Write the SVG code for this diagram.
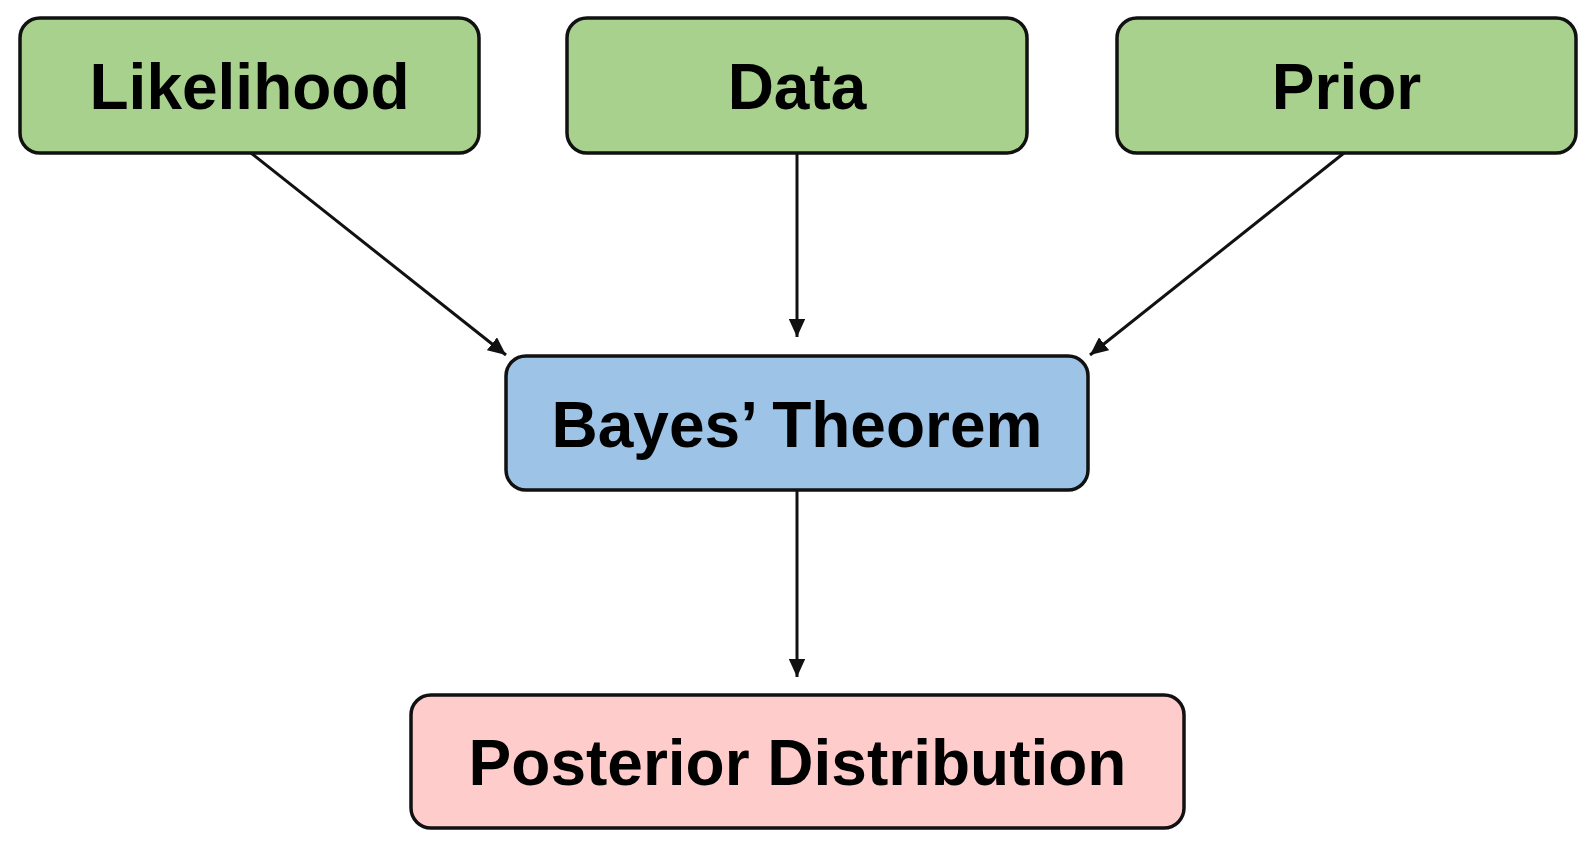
<svg xmlns="http://www.w3.org/2000/svg" width="1596" height="843" viewBox="0 0 1596 843">
<style>
.box{stroke:#111;stroke-width:3.5}
.g{fill:#a9d18e}.b{fill:#9dc3e6}.p{fill:#ffcccc}
.t{font-family:"Liberation Sans",Arial,sans-serif;font-weight:bold;font-size:64px;fill:#000;text-anchor:middle}
.c{stroke:#111;stroke-width:3;fill:none;marker-end:url(#ah)}
</style>
<defs>
<marker id="ah" viewBox="0 0 10 10" refX="10" refY="5" markerWidth="6" markerHeight="5.5" orient="auto" markerUnits="strokeWidth" preserveAspectRatio="none">
<path d="M0,0 L10,5 L0,10 z" fill="#111"/>
</marker>
</defs>
<rect width="1596" height="843" fill="#fff"/>
<g id="connectors">
<line class="c" x1="251" y1="153" x2="506" y2="355"/>
<line class="c" x1="797" y1="153" x2="797" y2="337"/>
<line class="c" x1="1344" y1="153" x2="1090" y2="355"/>
<line class="c" x1="797" y1="490" x2="797" y2="677"/>
</g>
<g id="likelihood">
<rect class="box g" x="20" y="18" width="459" height="135" rx="20"/>
<text class="t" x="249.5" y="109">Likelihood</text>
</g>
<g id="data">
<rect class="box g" x="567" y="18" width="460" height="135" rx="20"/>
<text class="t" x="797" y="109">Data</text>
</g>
<g id="prior">
<rect class="box g" x="1117" y="18" width="459" height="135" rx="20"/>
<text class="t" x="1346.5" y="109">Prior</text>
</g>
<g id="bayes">
<rect class="box b" x="506" y="356" width="582" height="134" rx="20"/>
<text class="t" x="797" y="447">Bayes’ Theorem</text>
</g>
<g id="posterior">
<rect class="box p" x="411" y="695" width="773" height="133" rx="20"/>
<text class="t" x="797.5" y="785">Posterior Distribution</text>
</g>
</svg>
